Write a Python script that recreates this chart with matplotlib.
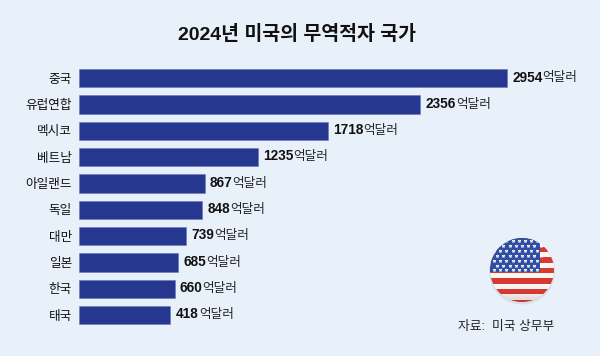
import numpy as np
import matplotlib
matplotlib.use('Agg')
import matplotlib.pyplot as plt
from matplotlib.patches import Circle, Rectangle

plt.rcParams['font.family'] = ['Liberation Sans', 'Noto Sans CJK KR', 'DejaVu Sans']

countries = ['중국', '유럽연합', '멕시코', '베트남', '아일랜드', '독일', '대만', '일본', '한국', '태국']
values = [2954, 2356, 1718, 1235, 867, 848, 739, 685, 660, 418]
# the last bar is drawn longer than its label says in the original
bar_lengths = [2954, 2356, 1718, 1235, 867, 848, 739, 685, 660, 631]
unit = '억달러'
title = '2024년 미국의 무역적자 국가'
source = '자료:  미국 상무부'

bg = '#e8f0fa'
bar_color = '#25378f'

fig = plt.figure(figsize=(6, 3.56), dpi=100, facecolor=bg)

# bars, axes area runs from the bar baseline to the right edge
ax = fig.add_axes([79 / 600, 0, 521 / 600, 1])
ax.set_facecolor('none')
ax.set_xlim(0, 521 / 0.1449)
ax.set_ylim(356, 0)
ypos = 78.2 + 26.33 * np.arange(len(values))
ax.barh(ypos, bar_lengths, height=18.6, color=bar_color, edgecolor='#6a78b8', linewidth=0.4)
ax.set_yticks(ypos)
ax.set_yticklabels(countries, fontsize=9.1, color='#111111')
ax.set_xticks([])
ax.tick_params(axis='y', length=0, pad=5)
for s in ax.spines.values():
    s.set_visible(False)

# bold number, then the unit right after it
for y, v, b in zip(ypos, values, bar_lengths):
    t = ax.annotate(str(v), (b, y), xytext=(3.8, 0.5), textcoords='offset points',
                    fontsize=9.8, fontweight='bold', va='center', color='#111111')
    gap = 0.9 if v == 418 else 0
    ax.annotate(unit, xy=(1, 0.5), xycoords=t, xytext=(gap, -0.5), textcoords='offset points',
                fontsize=9.1, va='center', color='#222222')

fig.text(296.5 / 600, 1 - 34.5 / 356, title, ha='center', va='center', fontsize=14,
         fontweight='bold', color='#111111')
fig.text(506 / 600, 1 - 327 / 356, source, ha='center', va='center', fontsize=9.2, color='#222222')

# flag badge in pixel coordinates
fa = fig.add_axes([0, 0, 1, 1])
fa.set_xlim(0, 600)
fa.set_ylim(356, 0)
fa.axis('off')
cx, cy, r = 522, 270, 32
fa.add_patch(Circle((cx, cy + 1.5), r + 1, color='#c9cfd8', alpha=0.5, lw=0))
clip = Circle((cx, cy), r, transform=fa.transData)
stripe_h = 5.3
for i in range(13):
    c = '#d63a34' if i % 2 == 0 else '#f8f5f3'
    p = fa.add_patch(Rectangle((cx - r, cy - r - 2 + i * stripe_h), 2 * r, stripe_h + 0.2, color=c, lw=0))
    p.set_clip_path(clip)
p = fa.add_patch(Rectangle((cx - r, cy - r), 50, 34, color='#2f4da3', lw=0))
p.set_clip_path(clip)
sx, sy = [], []
for row in range(7):
    for col in range(8):
        sx.append(cx - r + 4 + col * 6.2 + (row % 2) * 3.1)
        sy.append(cy - r + 3 + row * 4.9)
pts = fa.scatter(sx, sy, s=9, marker='*', color='white', linewidths=0)
pts.set_clip_path(clip)
# shading at the bottom of the badge
for i, a in enumerate([0.04, 0.07, 0.1, 0.14]):
    sh = fa.add_patch(Rectangle((cx - r, cy + r - 10 + i * 2.5), 2 * r, 2.5, color='#5a1010', alpha=a, lw=0))
    sh.set_clip_path(clip)

fig.savefig('out.png', dpi=100, facecolor=bg)
